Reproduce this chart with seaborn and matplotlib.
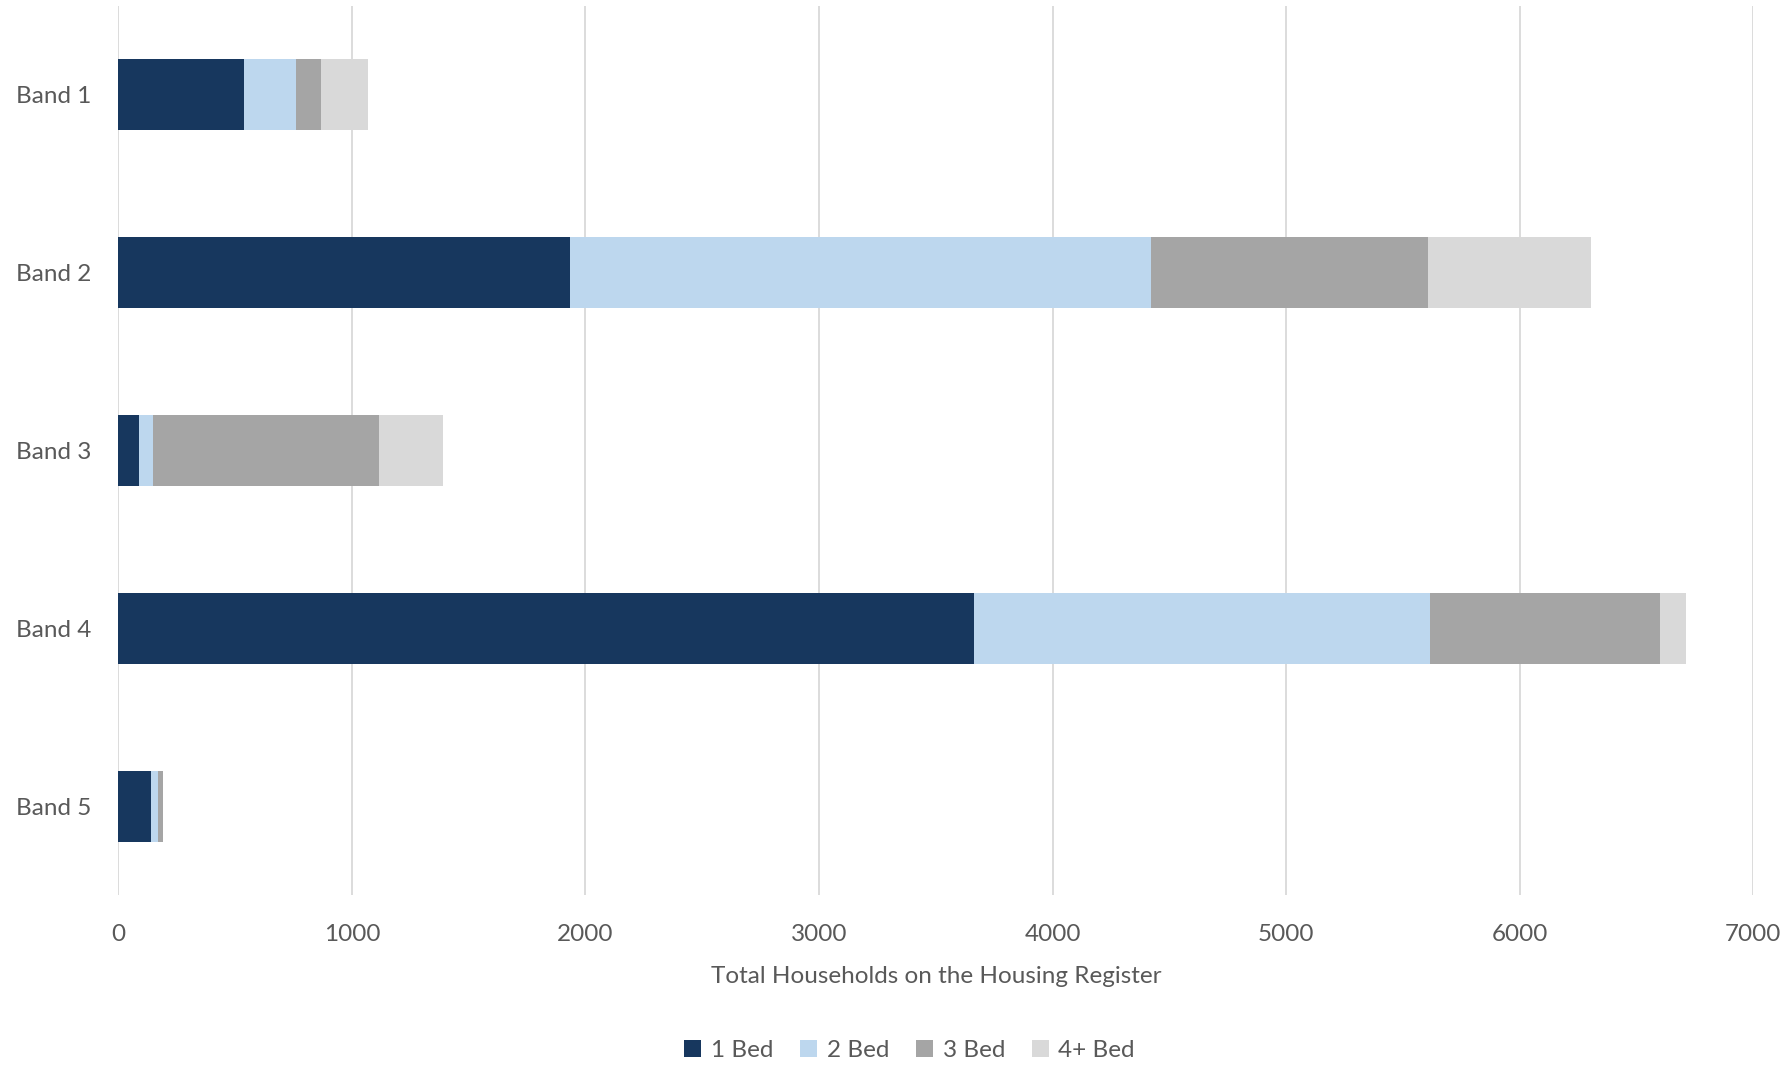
import matplotlib
matplotlib.use("Agg")
import matplotlib.pyplot as plt
from matplotlib.patches import Patch
import numpy as np
import pandas as pd
import seaborn as sns

bands = ["Band 1", "Band 2", "Band 3", "Band 4", "Band 5"]
bed_1 = [536, 1934, 87, 3663, 140]
bed_2 = [224, 2487, 62, 1953, 30]
bed_3 = [107, 1189, 965, 984, 19]
bed_4plus = [200, 697, 276, 114, 2]

series_names = ["1 Bed", "2 Bed", "3 Bed", "4+ Bed"]
series_colors = ["#17375E", "#BDD7EE", "#A5A5A5", "#D9D9D9"]
x_ticks = [0, 1000, 2000, 3000, 4000, 5000, 6000, 7000]

sns.set_theme(style="white")
plt.rcParams["font.family"] = ["Lato", "DejaVu Sans"]
text_color = "#595959"
font_size = 17.5

df = pd.DataFrame({"band": bands, "1 Bed": bed_1, "2 Bed": bed_2,
                   "3 Bed": bed_3, "4+ Bed": bed_4plus})
cum = df[series_names].cumsum(axis=1)

fig = plt.figure(figsize=(17.87, 10.65), dpi=100)
ax = fig.add_axes([0.0663, 0.1596, 0.9147, 0.8348])

# stacked bars: draw cumulative totals from the outermost segment inward
for name, color in reversed(list(zip(series_names, series_colors))):
    sns.barplot(x=cum[name], y=df["band"], orient="h", color=color,
                width=0.4, saturation=1, linewidth=0, ax=ax, zorder=3)

ax.set_xlim(0, 7000)
ax.set_ylim(4.5, -0.5)
ax.set_xticks(x_ticks)
ax.set_xticklabels([str(t) for t in x_ticks])
ax.xaxis.grid(True, color="#D9D9D9", linewidth=1.3, zorder=0)
ax.yaxis.grid(False)
for s in ax.spines.values():
    s.set_visible(False)
ax.tick_params(axis="both", length=0, labelsize=font_size, colors=text_color)
ax.tick_params(axis="x", pad=21)
ax.tick_params(axis="y", pad=19.5)
ax.set_ylabel("")
ax.set_xlabel("Total Households on the Housing Register", fontsize=font_size,
              color=text_color, labelpad=15)

handles = [Patch(facecolor=c, edgecolor="none", label=n)
           for n, c in zip(series_names, series_colors)]
leg = fig.legend(handles=handles, loc="center", ncol=4,
                 bbox_to_anchor=(0.509, 0.014), frameon=False, fontsize=font_size,
                 handlelength=0.7, handleheight=0.7, handletextpad=0.4,
                 columnspacing=1.1)
for t in leg.get_texts():
    t.set_color(text_color)

fig.savefig("out.png", dpi=100, facecolor="white")
